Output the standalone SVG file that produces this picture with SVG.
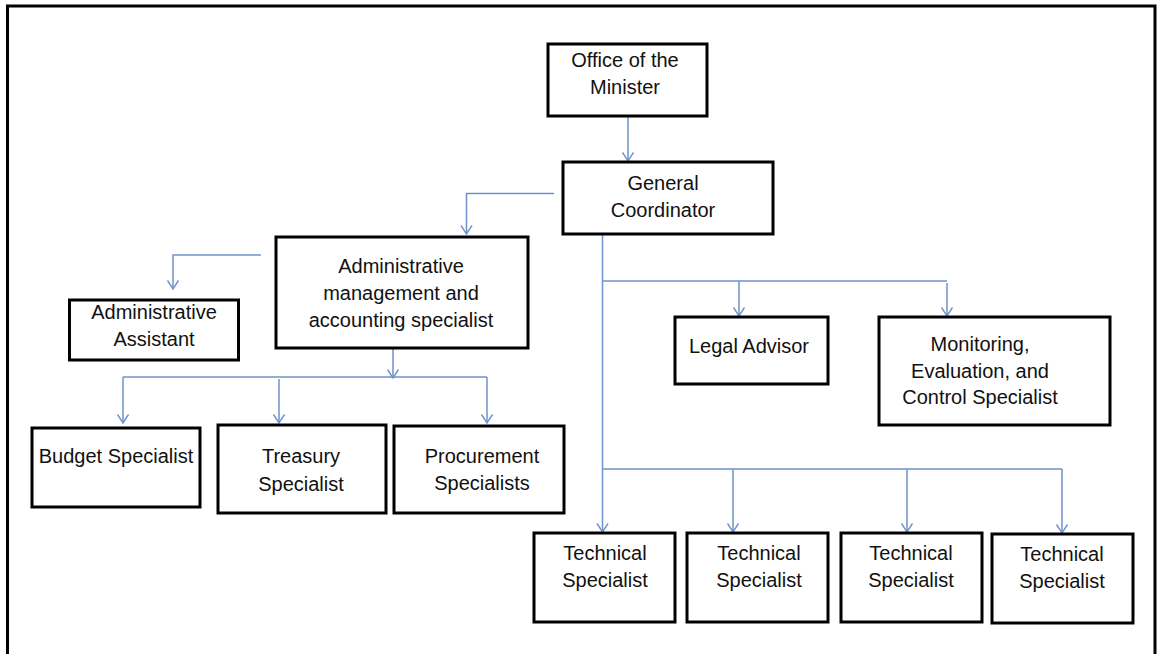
<svg xmlns="http://www.w3.org/2000/svg" width="1157" height="654" viewBox="0 0 1157 654">
  <defs>
    <marker id="arr" markerUnits="userSpaceOnUse" markerWidth="14" markerHeight="14" viewBox="-10 -7 12 14" refX="0" refY="0" orient="auto">
      <path d="M -8.5 -5.5 L 0 0 L -8.5 5.5" fill="none" stroke="#6F93C9" stroke-width="1.4"/>
    </marker>
  </defs>
  <style>
    .box { fill: #ffffff; stroke: #000000; stroke-width: 3; }
    .lbl { font-family: "Liberation Sans", Arial, sans-serif; font-size: 20px; fill: #111111; text-anchor: middle; }
    .con { fill: none; stroke: #6F93C9; stroke-width: 1.5; }
    .arw { marker-end: url(#arr); }
  </style>
  <rect x="0" y="0" width="1157" height="654" fill="#ffffff"/>
  <rect x="7.5" y="6" width="1147.5" height="700" fill="none" stroke="#000000" stroke-width="3"/>

  <g id="connectors">
    <path class="con arw" d="M 628 116 L 628 161"/>
    <path class="con arw" d="M 554 193.5 L 466.5 193.5 L 466.5 234"/>
    <path class="con arw" d="M 261 255 L 173 255 L 173 289"/>
    <path class="con arw" d="M 393 348 L 393 378"/>
    <path class="con" d="M 123 377 L 487 377"/>
    <path class="con arw" d="M 123 377 L 123 423"/>
    <path class="con arw" d="M 279 379 L 279 423"/>
    <path class="con arw" d="M 487 377 L 487 423"/>
    <path class="con arw" d="M 602.5 235 L 602.5 532"/>
    <path class="con" d="M 602.5 281 L 947 281"/>
    <path class="con arw" d="M 739 281 L 739 316"/>
    <path class="con arw" d="M 947 283 L 947 316"/>
    <path class="con" d="M 602.5 469 L 1062 469"/>
    <path class="con arw" d="M 733 469 L 733 532"/>
    <path class="con arw" d="M 907 469 L 907 532"/>
    <path class="con arw" d="M 1062 469 L 1062 533"/>
  </g>

  <g id="office-minister">
    <rect class="box" x="548" y="44" width="159" height="72"/>
    <text class="lbl" x="625" y="67">Office of the</text>
    <text class="lbl" x="625" y="94">Minister</text>
  </g>
  <g id="general-coordinator">
    <rect class="box" x="563" y="162" width="210" height="72"/>
    <text class="lbl" x="663" y="190">General</text>
    <text class="lbl" x="663" y="217">Coordinator</text>
  </g>
  <g id="admin-management">
    <rect class="box" x="276" y="237" width="252" height="111"/>
    <text class="lbl" x="401" y="273">Administrative</text>
    <text class="lbl" x="401" y="300">management and</text>
    <text class="lbl" x="401" y="327">accounting specialist</text>
  </g>
  <g id="admin-assistant">
    <rect class="box" x="69.5" y="300" width="169" height="60"/>
    <text class="lbl" x="154" y="319">Administrative</text>
    <text class="lbl" x="154" y="346">Assistant</text>
  </g>
  <g id="budget-specialist">
    <rect class="box" x="32" y="428" width="168" height="79"/>
    <text class="lbl" x="116" y="463">Budget Specialist</text>
  </g>
  <g id="treasury-specialist">
    <rect class="box" x="218" y="425" width="168" height="88"/>
    <text class="lbl" x="301" y="463">Treasury</text>
    <text class="lbl" x="301" y="491">Specialist</text>
  </g>
  <g id="procurement-specialists">
    <rect class="box" x="394" y="426" width="170" height="87"/>
    <text class="lbl" x="482" y="463">Procurement</text>
    <text class="lbl" x="482" y="490">Specialists</text>
  </g>
  <g id="legal-advisor">
    <rect class="box" x="675" y="317" width="153" height="67"/>
    <text class="lbl" x="749" y="353">Legal Advisor</text>
  </g>
  <g id="monitoring-specialist">
    <rect class="box" x="879" y="317" width="231" height="108"/>
    <text class="lbl" x="980" y="351">Monitoring,</text>
    <text class="lbl" x="980" y="378">Evaluation, and</text>
    <text class="lbl" x="980" y="404">Control Specialist</text>
  </g>
  <g id="technical-specialist-1">
    <rect class="box" x="534" y="533" width="141" height="89"/>
    <text class="lbl" x="605" y="560">Technical</text>
    <text class="lbl" x="605" y="587">Specialist</text>
  </g>
  <g id="technical-specialist-2">
    <rect class="box" x="687" y="533" width="141" height="89"/>
    <text class="lbl" x="759" y="560">Technical</text>
    <text class="lbl" x="759" y="587">Specialist</text>
  </g>
  <g id="technical-specialist-3">
    <rect class="box" x="841" y="533" width="141" height="89"/>
    <text class="lbl" x="911" y="560">Technical</text>
    <text class="lbl" x="911" y="587">Specialist</text>
  </g>
  <g id="technical-specialist-4">
    <rect class="box" x="992" y="534" width="141" height="89"/>
    <text class="lbl" x="1062" y="561">Technical</text>
    <text class="lbl" x="1062" y="588">Specialist</text>
  </g>
</svg>
